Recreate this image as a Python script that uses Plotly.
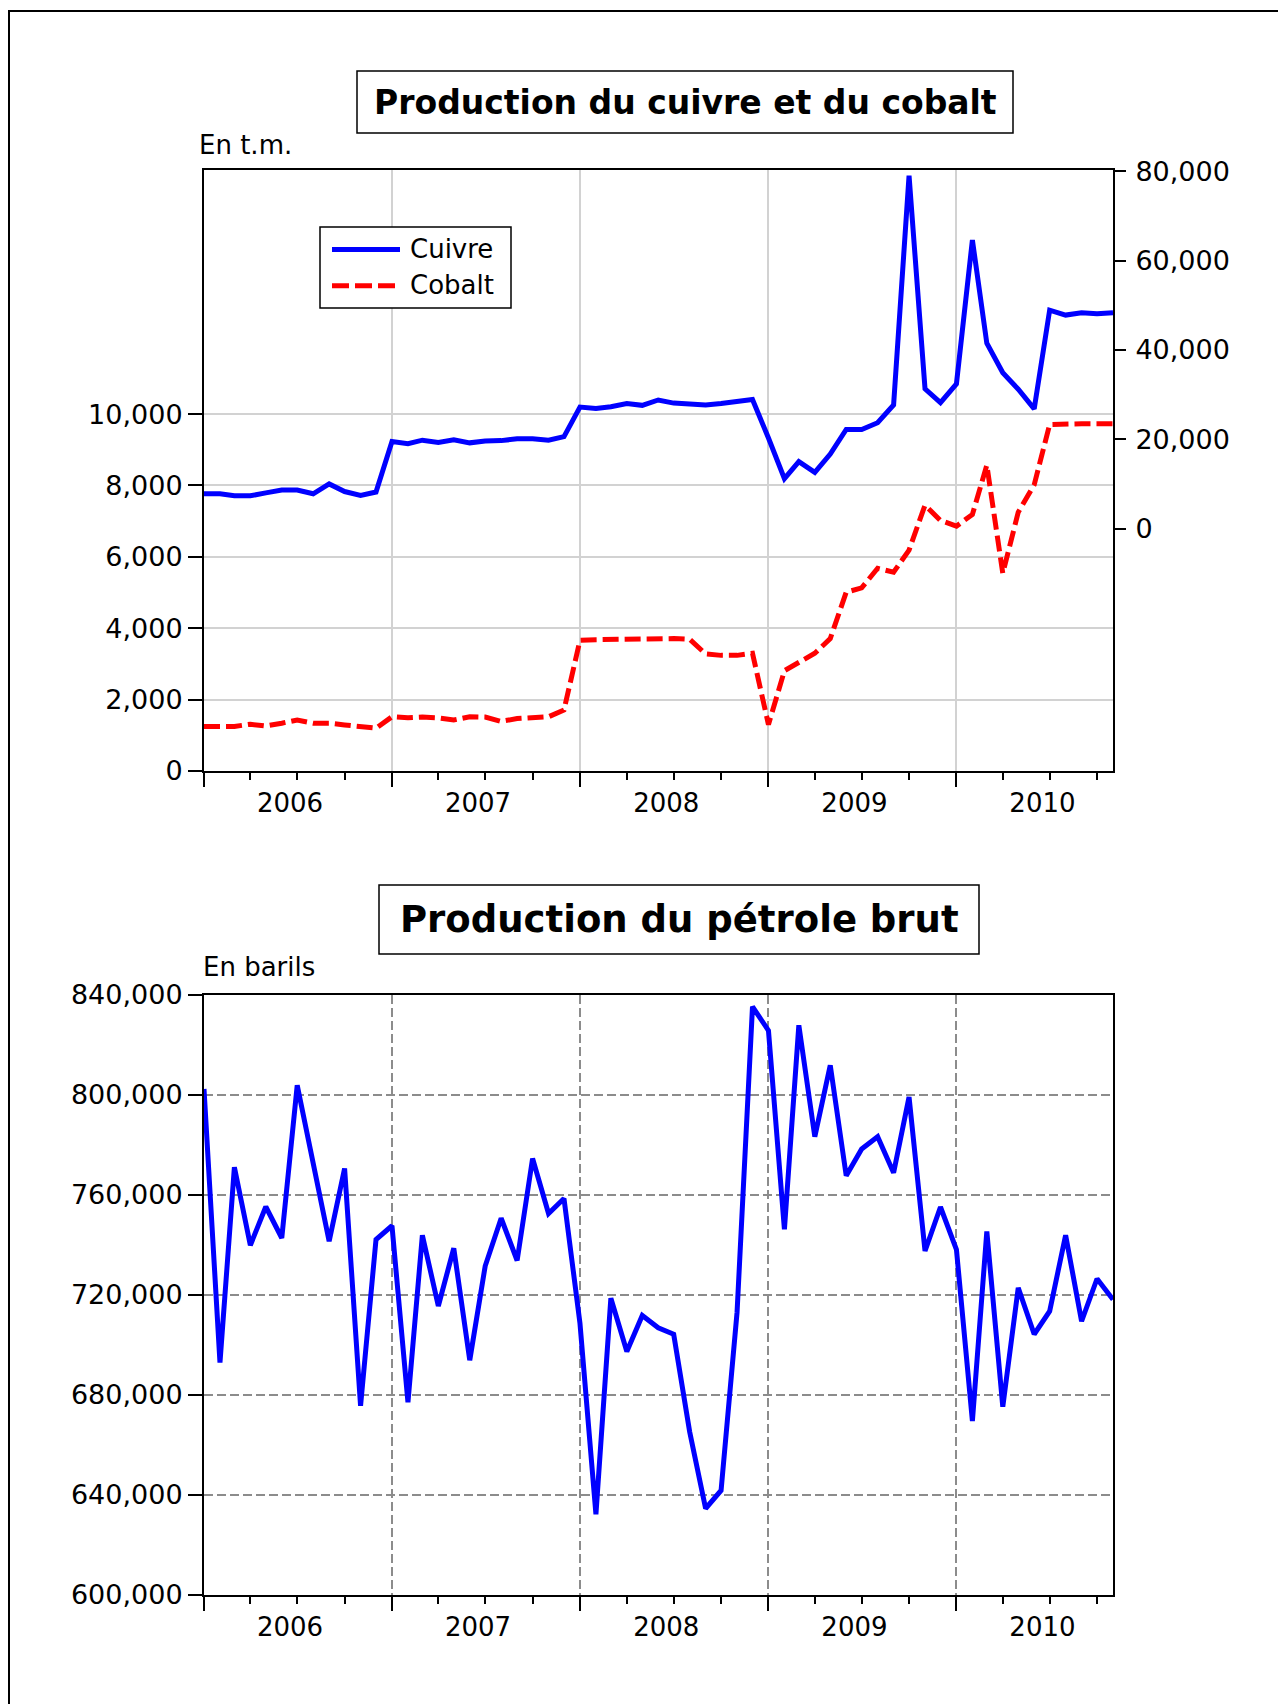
import pandas as pd
import plotly.graph_objects as go

W, H = 1278, 1704

# ---------------- data (monthly, Jan 2006 - Nov 2010) ----------------
start_month = "2006-01-01"
n_months = 59

cuivre = [7800, 7800, 7350, 7350, 8000, 8650, 8650, 7800, 10000, 8300, 7450, 8200,
          19500, 19000, 19800, 19300, 19900, 19200, 19600, 19700, 20100, 20100, 19800, 20600,
          27200, 26900, 27300, 28000, 27600, 28800, 28100, 27900, 27700, 28000, 28500, 28900,
          20300, 11200, 15000, 12600, 16700, 22200, 22200, 23700, 27700, 79000, 31300, 28200,
          32400, 64600, 41500, 34900, 31200, 26800, 48900, 47800, 48300, 48100, 48300]

cobalt = [1250, 1250, 1250, 1310, 1260, 1340, 1430, 1340, 1340, 1290, 1250, 1200,
          1520, 1490, 1510, 1490, 1430, 1520, 1510, 1390, 1470, 1500, 1520, 1710,
          3660, 3680, 3690, 3690, 3700, 3720, 3710, 3690, 3280, 3240, 3240, 3300,
          1300, 2810, 3050, 3300, 3710, 5010, 5130, 5680, 5570, 6190, 7450, 7020,
          6860, 7190, 8570, 5540, 7250, 8020, 9710, 9730, 9730, 9730, 9730]

petrole = [802200, 692800, 770900, 739700, 755100, 742600, 803700, 772700, 741300, 770400, 675500, 742000,
           747500, 676900, 743700, 715400, 738500, 693700, 731400, 750500, 733600, 774400, 752400, 758400,
           708500, 632100, 718500, 697200, 711600, 706700, 704100, 665100, 634400, 641600, 712800, 835100,
           825600, 746100, 827700, 783100, 811700, 767500, 778200, 783100, 768700, 799000, 737400, 755000,
           738000, 669400, 745200, 675100, 722700, 704100, 713300, 743700, 709300, 726300, 718000]

left_ticks_top = [0, 2000, 4000, 6000, 8000, 10000]
right_ticks_top = [0, 20000, 40000, 60000, 80000]
ticks_bottom = [600000, 640000, 680000, 720000, 760000, 800000, 840000]

title_top = "Production du cuivre et du cobalt"
title_bottom = "Production du pétrole brut"
unit_top = "En t.m."
unit_bottom = "En barils"
series_names = ["Cuivre", "Cobalt"]

months = pd.date_range(start_month, periods=n_months, freq="MS")

FONT = "DejaVu Sans"
BLUE = "#0000FF"
RED = "#FF0000"


def fx(x):
    return x / W


def fy(y):
    return 1 - y / H


X_DOM = [fx(204), fx(1113)]

fig = go.Figure()
fig.add_trace(go.Scatter(x=months, y=cuivre, name=series_names[0], mode="lines",
                         xaxis="x", yaxis="y2", showlegend=False,
                         line=dict(color=BLUE, width=5)))
fig.add_trace(go.Scatter(x=months, y=cobalt, name=series_names[1], mode="lines",
                         xaxis="x", yaxis="y", showlegend=False,
                         line=dict(color=RED, width=5, dash="16px,6px")))
fig.add_trace(go.Scatter(x=months, y=petrole, name="Pétrole", mode="lines",
                         xaxis="x2", yaxis="y3", showlegend=False,
                         line=dict(color=BLUE, width=5)))


def xaxis_cfg(anchor, gridcolor, griddash):
    return dict(
        type="date", domain=X_DOM, anchor=anchor, automargin=False,
        range=[months[0], months[-1]],
        tick0=start_month, dtick="M12", tickformat="%Y", ticklabelmode="period",
        ticks="outside", ticklen=14, tickwidth=1.5, tickcolor="black",
        ticklabelstandoff=-6, ticklabelshift=-8,
        showline=True, linecolor="black", linewidth=2, mirror=True,
        showgrid=True, gridcolor=gridcolor, gridwidth=1.5, griddash=griddash,
        zeroline=False,
        minor=dict(dtick="M3", tick0=start_month, ticks="outside", ticklen=7,
                   tickwidth=1.5, tickcolor="black", showgrid=False),
        tickfont=dict(family=FONT, size=26, color="black"),
    )


tickfont = dict(family=FONT, size=27, color="black")

fig.update_layout(
    width=W, height=H,
    margin=dict(l=0, r=0, t=0, b=0, autoexpand=False),
    paper_bgcolor="white", plot_bgcolor="white",
    showlegend=False,
    xaxis=xaxis_cfg("y", "#d2d2d2", "solid"),
    yaxis=dict(domain=[fy(771), fy(170)], anchor="x", range=[0, 16840], automargin=False,
               tickvals=left_ticks_top, tickformat=",",
               ticks="outside", ticklen=14, tickwidth=1.5, tickcolor="black",
               showline=True, linecolor="black", linewidth=2,
               showgrid=True, gridcolor="#d2d2d2", gridwidth=1.5,
               zeroline=False, tickfont=tickfont),
    yaxis2=dict(overlaying="y", side="right", anchor="x", range=[-54260, 80280],
                automargin=False,
                tickvals=right_ticks_top, tickformat=",",
                ticks="outside", ticklen=11, tickwidth=1.5, tickcolor="black",
                ticklabelstandoff=4,
                showline=True, linecolor="black", linewidth=2,
                showgrid=False, zeroline=False, tickfont=tickfont),
    xaxis2=xaxis_cfg("y3", "#8c8c8c", "9px,4px"),
    yaxis3=dict(domain=[fy(1594.5), fy(994.5)], anchor="x2", range=[600000, 840000],
                automargin=False,
                tickvals=ticks_bottom, tickformat=",",
                ticks="outside", ticklen=14, tickwidth=1.5, tickcolor="black",
                showline=True, linecolor="black", linewidth=2, mirror=True,
                showgrid=True, gridcolor="#8c8c8c", gridwidth=1.5, griddash="9px,4px",
                zeroline=False, tickfont=tickfont),
)

shapes = []
# outer frame
shapes.append(dict(type="rect", xref="paper", yref="paper",
                   x0=fx(9), x1=fx(1320), y0=fy(1760), y1=fy(11),
                   line=dict(color="black", width=2)))
# title boxes
shapes.append(dict(type="rect", xref="paper", yref="paper",
                   x0=fx(357), x1=fx(1013), y0=fy(133), y1=fy(71),
                   line=dict(color="black", width=1.5)))
shapes.append(dict(type="rect", xref="paper", yref="paper",
                   x0=fx(379), x1=fx(979), y0=fy(954), y1=fy(885),
                   line=dict(color="black", width=1.5)))
# legend box and samples
shapes.append(dict(type="rect", xref="paper", yref="paper",
                   x0=fx(320), x1=fx(511), y0=fy(308), y1=fy(227),
                   fillcolor="white", line=dict(color="black", width=1.5)))
shapes.append(dict(type="line", xref="paper", yref="paper",
                   x0=fx(332), x1=fx(400), y0=fy(249.5), y1=fy(249.5),
                   line=dict(color=BLUE, width=5)))
shapes.append(dict(type="line", xref="paper", yref="paper",
                   x0=fx(332), x1=fx(400), y0=fy(285.7), y1=fy(285.7),
                   line=dict(color=RED, width=5, dash="17px,6px")))

annotations = [
    dict(text="<b>" + title_top + "</b>", x=fx(685), y=fy(102), xref="paper", yref="paper",
         xanchor="center", yanchor="middle", showarrow=False,
         font=dict(family=FONT, size=33, color="black")),
    dict(text="<b>" + title_bottom + "</b>", x=fx(679), y=fy(919.5), xref="paper", yref="paper",
         xanchor="center", yanchor="middle", showarrow=False,
         font=dict(family=FONT, size=37, color="black")),
    dict(text=unit_top, x=fx(197), y=fy(144.5), xref="paper", yref="paper",
         xanchor="left", yanchor="middle", showarrow=False,
         font=dict(family=FONT, size=26, color="black")),
    dict(text=unit_bottom, x=fx(201), y=fy(967), xref="paper", yref="paper",
         xanchor="left", yanchor="middle", showarrow=False,
         font=dict(family=FONT, size=26, color="black")),
    dict(text=series_names[0], x=fx(408), y=fy(249), xref="paper", yref="paper",
         xanchor="left", yanchor="middle", showarrow=False,
         font=dict(family=FONT, size=26, color="black")),
    dict(text=series_names[1], x=fx(408), y=fy(285), xref="paper", yref="paper",
         xanchor="left", yanchor="middle", showarrow=False,
         font=dict(family=FONT, size=26, color="black")),
]

fig.update_layout(shapes=shapes, annotations=annotations)

fig.write_html(
    "out.html",
    config={"displayModeBar": False},
    post_script="document.body.style.margin='0';document.body.style.overflow='hidden';",
)
